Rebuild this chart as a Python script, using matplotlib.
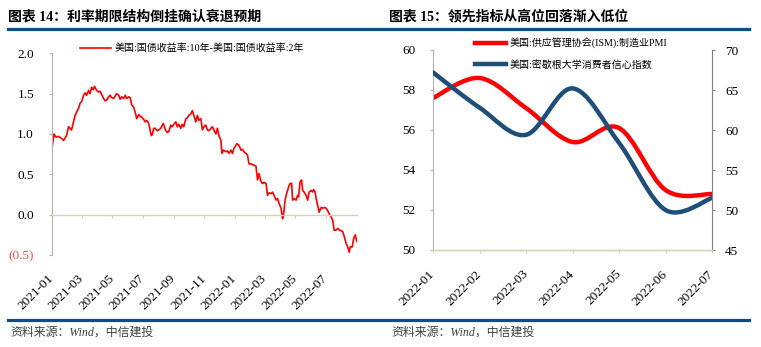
import numpy as np
import pandas as pd
import matplotlib
matplotlib.use('Agg')
import matplotlib.pyplot as plt
from matplotlib.lines import Line2D
from matplotlib.path import Path
from matplotlib.patches import PathPatch

CJK = ['Noto Sans CJK SC', 'DejaVu Sans']
SERIF = ['Liberation Serif', 'Noto Sans CJK SC']
plt.rcParams['font.family'] = SERIF

# US 10Y-2Y treasury spread, x = days after 2021-01-01
spread_day = [0, 4, 8, 13, 18, 23, 29, 33, 39, 46, 53, 56, 59, 63, 66, 69, 73, 76, 79, 82,
              85, 89, 93, 96, 99, 103, 106, 109, 113, 116, 119, 123, 126, 129, 133, 136, 139, 143, 146, 149,
              153, 156, 159, 163, 166, 169, 173, 176, 179, 183, 186, 189, 193, 198, 200, 203, 206, 210, 213, 217,
              222, 227, 230, 233, 237, 240, 243, 247, 250, 253, 257, 260, 263, 267, 270, 273, 277, 280, 283, 287,
              290, 293, 297, 300, 303, 307, 310, 313, 317, 320, 323, 327, 330, 333, 337, 339, 342, 347, 350, 353,
              357, 360, 363, 366, 369, 373, 377, 380, 383, 387, 390, 393, 397, 400, 404, 407, 410, 413, 417, 420,
              423, 427, 430, 433, 437, 440, 443, 447, 450, 453, 457, 460, 462, 465, 468, 470, 473, 475, 478, 480,
              483, 487, 490, 492, 495, 498, 500, 503, 507, 510, 513, 517, 520, 522, 525, 527, 530, 533, 537, 540,
              543, 547, 550, 553, 557, 560, 563, 567, 570, 573, 577, 580, 583, 587, 590, 593, 595, 599, 602, 605,
              608]
spread_val = [0.82, 1.00, 0.96, 0.97, 0.95, 0.92, 0.98, 1.09, 1.05, 1.23, 1.32, 1.38, 1.40, 1.48, 1.51, 1.48, 1.54, 1.50, 1.58, 1.55,
              1.59, 1.54, 1.52, 1.53, 1.49, 1.44, 1.41, 1.42, 1.46, 1.48, 1.45, 1.44, 1.47, 1.50, 1.48, 1.43, 1.46, 1.44, 1.48, 1.44,
              1.46, 1.45, 1.36, 1.33, 1.27, 1.19, 1.24, 1.22, 1.21, 1.18, 1.15, 1.17, 1.13, 0.98, 0.99, 1.07, 1.07, 1.04, 1.05, 1.07,
              1.13, 1.04, 1.02, 1.03, 1.11, 1.09, 1.12, 1.15, 1.09, 1.12, 1.07, 1.12, 1.09, 1.19, 1.20, 1.23, 1.25, 1.29, 1.23, 1.15,
              1.23, 1.17, 1.19, 1.05, 1.09, 1.11, 1.05, 1.04, 1.07, 1.09, 1.05, 1.00, 1.07, 0.98, 0.92, 0.76, 0.80, 0.78, 0.79, 0.76,
              0.80, 0.76, 0.82, 0.85, 0.88, 0.86, 0.80, 0.81, 0.78, 0.76, 0.74, 0.63, 0.63, 0.62, 0.61, 0.60, 0.43, 0.51, 0.41, 0.385,
              0.40, 0.385, 0.24, 0.27, 0.26, 0.28, 0.24, 0.18, 0.20, 0.14, 0.08, -0.05, 0.0, 0.18, 0.26, 0.30, 0.36, 0.385, 0.39, 0.18,
              0.20, 0.18, 0.24, 0.22, 0.41, 0.43, 0.30, 0.28, 0.24, 0.18, 0.28, 0.30, 0.28, 0.31, 0.28, 0.20, 0.115, 0.03, 0.09, 0.08,
              0.09, 0.08, 0.05, 0.01, -0.03, -0.07, -0.195, -0.19, -0.17, -0.19, -0.20, -0.21, -0.27, -0.36, -0.40, -0.465, -0.40, -0.40, -0.29, -0.25,
              -0.33]
spread_ticks = ['2021-01-01', '2021-03-01', '2021-05-01', '2021-07-01', '2021-09-01',
                '2021-11-01', '2022-01-01', '2022-03-01', '2022-05-01', '2022-07-01']
spread_yticks = [-0.5, 0.0, 0.5, 1.0, 1.5, 2.0]

months = ['2022-01', '2022-02', '2022-03', '2022-04', '2022-05', '2022-06', '2022-07']
pmi = [57.6, 58.6, 57.1, 55.4, 56.1, 53.0, 52.8]
sentiment = [67.2, 62.8, 59.4, 65.2, 58.4, 50.0, 51.5]

RED = '#ff0000'
NAVY = '#1f4e79'
BAR = '#0f4c81'
BEIGE = '#d8d3b8'
GRAY = '#b3b3b3'
DGRAY = '#808080'


def smooth_path(xs, ys):
    # bezier curve through every point, tangents from the neighbours
    pts = np.column_stack([xs, ys]).astype(float)
    ext = np.vstack([pts[0], pts, pts[-1]])
    verts = [pts[0]]
    codes = [Path.MOVETO]
    for i in range(len(pts) - 1):
        p0, p1, p2, p3 = ext[i], ext[i + 1], ext[i + 2], ext[i + 3]
        verts += [p1 + (p2 - p0) / 6, p2 - (p3 - p1) / 6, p2]
        codes += [Path.CURVE4] * 3
    return Path(verts, codes)


def fmt_num(v):
    return '(%.1f)' % abs(v) if v < 0 else '%.1f' % v


def tilt(axis_obj):
    for lab in axis_obj.get_xticklabels():
        lab.set_rotation(45)
        lab.set_ha('right')
        lab.set_va('center')
        lab.set_rotation_mode('anchor')


fig = plt.figure(figsize=(7.61, 3.47), dpi=100)
W, H = 761.0, 347.0

def fx(px):
    return px / W

def fy(py):
    return 1 - py / H

# headers, rules and source notes
for x0, x1, tx, title in [(8, 378, 8, '图表 14：利率期限结构倒挂确认衰退预期'),
                          (381, 749, 389, '图表 15：领先指标从高位回落渐入低位')]:
    fig.text(fx(tx), fy(16.5), title, family=SERIF, fontsize=10, fontweight='bold',
             ha='left', va='center', color='black')
    fig.add_artist(Line2D([fx(x0), fx(x1)], [fy(29), fy(29)], color=BAR, lw=2.3))
    fig.add_artist(Line2D([fx(x0), fx(x1)], [fy(319.5), fy(319.5)], color=BAR, lw=2.3))
    fig.text(fx(tx + 2), fy(332.5), '资料来源：Wind，中信建投', family=SERIF, fontsize=8.6,
             style='italic', ha='left', va='center', color='#404040')

# ---- left: yield curve spread ----
ax = fig.add_axes([fx(52), fy(255), fx(357) - fx(52), fy(53.3) - fy(255)])
base = pd.Timestamp('2021-01-01')
dates = base + pd.to_timedelta(spread_day, unit='D')
ax.plot(dates, spread_val, color=RED, lw=1.2, label='美国:国债收益率:10年-美国:国债收益率:2年')
ax.set_xlim(base, base + pd.Timedelta(days=608.5))
ax.set_ylim(-0.5, 2.0)

ax.spines['top'].set_visible(False)
ax.spines['right'].set_visible(False)
ax.spines['left'].set_color(GRAY)
ax.spines['left'].set_linewidth(0.8)
ax.spines['bottom'].set_position(('data', 0))
ax.spines['bottom'].set_color(BEIGE)
ax.spines['bottom'].set_linewidth(1.0)

ax.set_yticks(spread_yticks, [fmt_num(v) for v in spread_yticks])
for v, lab in zip(spread_yticks, ax.get_yticklabels()):
    if v < 0:
        lab.set_color('#ff4d4d')
ax.set_xticks(pd.to_datetime(spread_ticks), [d[:7] for d in spread_ticks])
ax.tick_params(axis='y', direction='out', length=2.5, width=0.8, color=GRAY, pad=10.5,
               labelsize=9.5)
ax.tick_params(axis='x', direction='out', length=2.5, width=0.8, color=BEIGE, pad=42,
               labelsize=9.5)
tilt(ax)

ax.legend(loc='upper left', bbox_to_anchor=((80 - 52) / 305, (255 - 43.5) / 201.7),
          frameon=False, borderpad=0, borderaxespad=0, handlelength=3.1, handletextpad=0.4,
          prop={'family': SERIF, 'size': 7.2})

# ---- right: PMI and consumer sentiment ----
ax1 = fig.add_axes([fx(433), fy(250), fx(712) - fx(433), fy(50) - fy(250)])
ax2 = ax1.twinx()
xs = np.arange(len(months))
ax1.add_patch(PathPatch(smooth_path(xs, pmi), facecolor='none', edgecolor=RED, lw=3.2,
                        capstyle='round', joinstyle='round'))
ax2.add_patch(PathPatch(smooth_path(xs, sentiment), facecolor='none', edgecolor=NAVY, lw=3.2,
                        capstyle='round', joinstyle='round'))
ax1.set_xlim(0, len(months) - 1)
ax1.set_ylim(50, 60)
ax2.set_ylim(45, 70)
ax1.set_yticks(np.arange(50, 61, 2))
ax2.set_yticks(np.arange(45, 71, 5))
ax1.set_xticks(xs, months)

for a in (ax1, ax2):
    a.spines['top'].set_visible(False)
    a.spines['bottom'].set_color(BEIGE)
    a.spines['bottom'].set_linewidth(1.0)
ax1.spines['left'].set_color(GRAY)
ax1.spines['left'].set_linewidth(0.8)
ax1.spines['right'].set_visible(False)
ax2.spines['left'].set_visible(False)
ax2.spines['right'].set_color(DGRAY)
ax2.spines['right'].set_linewidth(0.8)

ax1.tick_params(axis='y', direction='out', length=2.5, width=0.8, color=GRAY, pad=10,
                labelsize=9.5)
ax2.tick_params(axis='y', direction='out', length=2.5, width=0.8, color=DGRAY, pad=7,
                labelsize=9.5)
ax1.tick_params(axis='x', direction='out', length=2.5, width=0.8, color=BEIGE, pad=13.5,
                labelsize=9.5)
tilt(ax1)

handles = [Line2D([], [], color=RED, lw=3.2), Line2D([], [], color=NAVY, lw=3.2)]
ax2.legend(handles, ['美国:供应管理协会(ISM):制造业PMI', '美国:密歇根大学消费者信心指数'],
           loc='upper left', bbox_to_anchor=((475 - 433) / 279, (250 - 37.5) / 200),
           frameon=False, borderpad=0, borderaxespad=0, handlelength=3.1, handletextpad=0.4,
           labelspacing=1.1, prop={'family': SERIF, 'size': 7.2})

fig.savefig('out.png', dpi=100)
